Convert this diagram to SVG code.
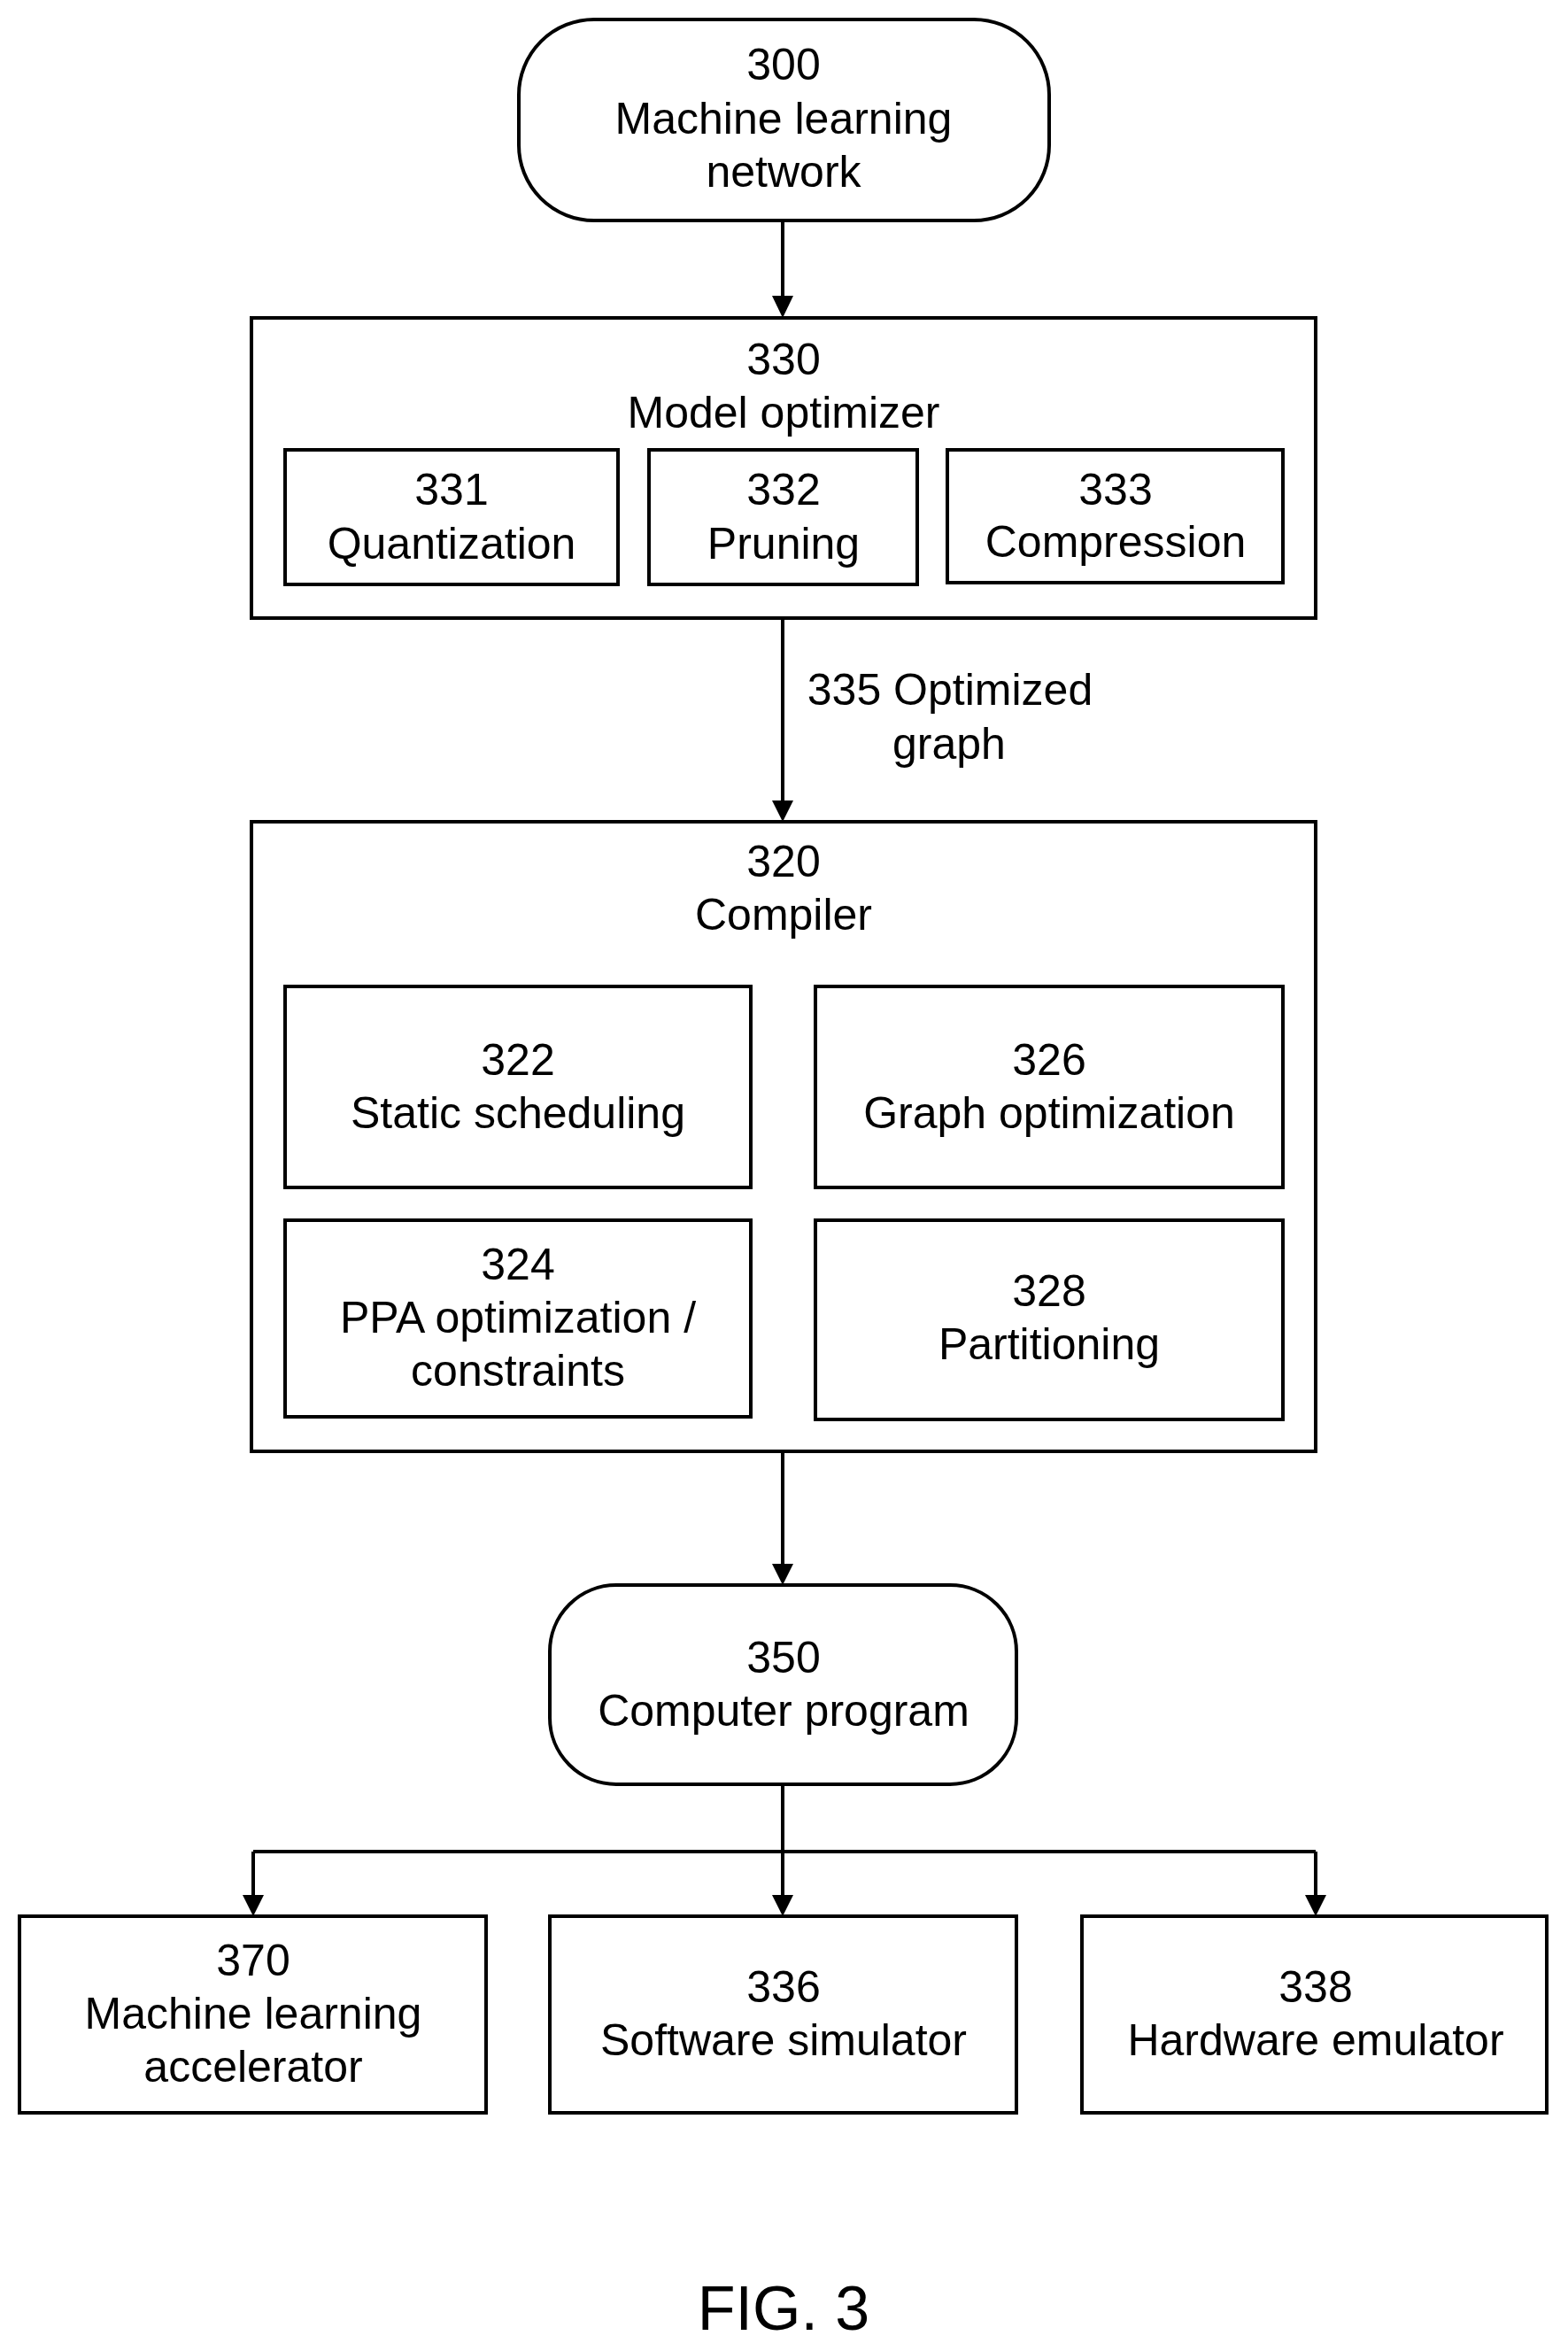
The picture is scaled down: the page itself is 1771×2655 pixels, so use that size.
<svg xmlns="http://www.w3.org/2000/svg" width="1771" height="2655" viewBox="0 0 1771 2655">
<defs>
<style>
rect{fill:#fff;stroke:#000;stroke-width:4}
text{font-family:"Liberation Sans",Arial,sans-serif;font-size:50px;fill:#000;text-anchor:middle;dominant-baseline:central}
.c{stroke:#000;stroke-width:4;fill:none}
</style>
</defs>
<rect width="1771" height="2655" style="fill:#fff;stroke:none"/>
<g id="connectors">
<path class="c" d="M884,249 V336"/>
<path d="M872,334 L884,359 L896,334 z"/>
<path class="c" d="M884,698 V905"/>
<path d="M872,904 L884,928 L896,904 z"/>
<path class="c" d="M884,1639 V1768"/>
<path d="M872,1766 L884,1790 L896,1766 z"/>
<path class="c" d="M884,2015 V2142 M286,2091 H1486 M286,2091 V2142 M1486,2091 V2142"/>
<path d="M872,2140 L884,2164 L896,2140 z M274,2140 L286,2164 L298,2140 z M1474,2140 L1486,2164 L1498,2140 z"/>
<text x="1073" y="779">335 Optimized</text>
<text x="1072" y="840">graph</text>
</g>
<g id="n300"><rect x="586" y="22" width="599" height="227" rx="85"/><text x="885" y="73">300</text><text x="885" y="134">Machine learning</text><text x="885" y="194">network</text></g>
<g id="n330"><rect x="284" y="359" width="1202" height="339"/><text x="885" y="406">330</text><text x="885" y="466">Model optimizer</text></g>
<g id="n331"><rect x="322" y="508" width="376" height="152"/><text x="510" y="553">331</text><text x="510" y="614">Quantization</text></g>
<g id="n332"><rect x="733" y="508" width="303" height="152"/><text x="885" y="553">332</text><text x="885" y="614">Pruning</text></g>
<g id="n333"><rect x="1070" y="508" width="379" height="150"/><text x="1260" y="553">333</text><text x="1260" y="612">Compression</text></g>
<g id="n320"><rect x="284" y="928" width="1202" height="711"/><text x="885" y="973">320</text><text x="885" y="1033">Compiler</text></g>
<g id="n322"><rect x="322" y="1114" width="526" height="227"/><text x="585" y="1197">322</text><text x="585" y="1257">Static scheduling</text></g>
<g id="n326"><rect x="921" y="1114" width="528" height="227"/><text x="1185" y="1197">326</text><text x="1185" y="1257">Graph optimization</text></g>
<g id="n324"><rect x="322" y="1378" width="526" height="222"/><text x="585" y="1428">324</text><text x="585" y="1488">PPA optimization /</text><text x="585" y="1548">constraints</text></g>
<g id="n328"><rect x="921" y="1378" width="528" height="225"/><text x="1185" y="1458">328</text><text x="1185" y="1518">Partitioning</text></g>
<g id="n350"><rect x="621" y="1790" width="527" height="225" rx="75"/><text x="885" y="1872">350</text><text x="885" y="1932">Computer program</text></g>
<g id="n370"><rect x="22" y="2164" width="527" height="222"/><text x="286" y="2214">370</text><text x="286" y="2274">Machine learning</text><text x="286" y="2334">accelerator</text></g>
<g id="n336"><rect x="621" y="2164" width="527" height="222"/><text x="885" y="2244">336</text><text x="885" y="2304">Software simulator</text></g>
<g id="n338"><rect x="1222" y="2164" width="525" height="222"/><text x="1486" y="2244">338</text><text x="1486" y="2304">Hardware emulator</text></g>
<text x="885" y="2607" style="font-size:70px">FIG. 3</text>
</svg>
